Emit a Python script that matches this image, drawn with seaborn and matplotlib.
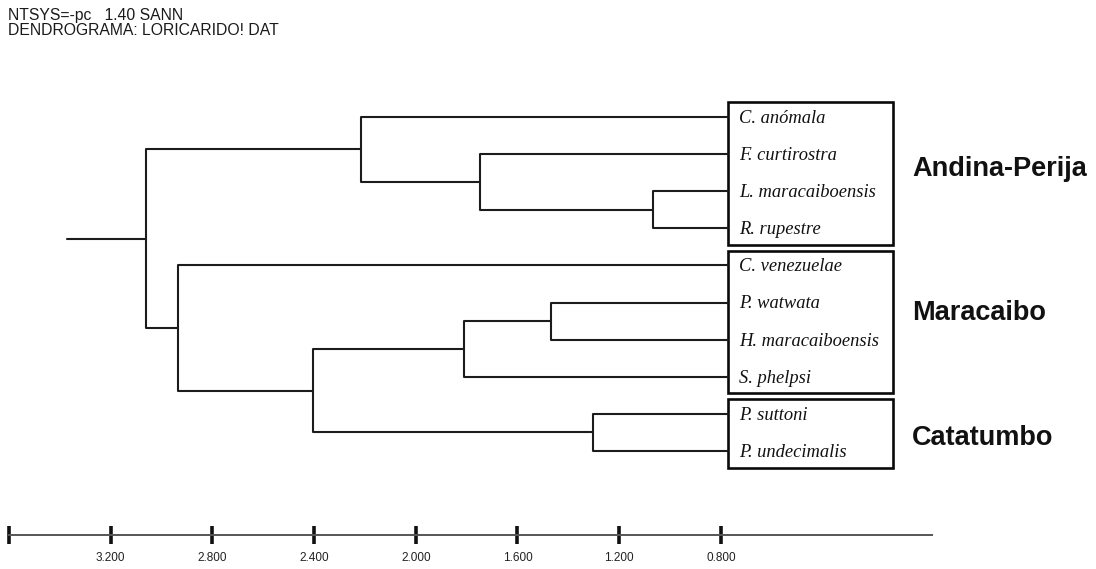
import matplotlib
matplotlib.use("Agg")

import matplotlib.pyplot as plt
import pandas as pd
import seaborn as sns
from matplotlib.patches import Rectangle

# species in dendrogram order, top to bottom
species = [
    "C. anómala", "F. curtirostra", "L. maracaiboensis", "R. rupestre",
    "C. venezuelae", "P. watwata", "H. maracaiboensis", "S. phelpsi",
    "P. suttoni", "P. undecimalis",
]

# agglomeration steps; ids 0-9 are the species, step k creates node 10 + k
merge_left = [2, 1, 0, 5, 13, 8, 14, 4, 12]
merge_right = [3, 10, 11, 6, 7, 9, 15, 16, 17]
merge_height = [1.067, 1.747, 2.215, 1.468, 1.810, 1.303, 2.404, 2.935, 3.061]
root_stem = 3.372
leaf_edge = 0.772

group_names = ["Andina-Perija", "Maracaibo", "Catatumbo"]
group_sizes = [4, 4, 2]

tick_values = [3.6, 3.2, 2.8, 2.4, 2.0, 1.6, 1.2, 0.8]
tick_labels = ["", "3.200", "2.800", "2.400", "2.000", "1.600", "1.200", "0.800"]

header_lines = ["NTSYS=-pc   1.40 SANN", "DENDROGRAMA: LORICARIDO! DAT"]


def build_segments():
    n = len(species)
    pos = {i: float(i) for i in range(n)}
    height = {i: leaf_edge for i in range(n)}
    rows = []
    for k, (l, r, h) in enumerate(zip(merge_left, merge_right, merge_height)):
        node = n + k
        pos[node] = (pos[l] + pos[r]) / 2
        height[node] = h
        rows += [
            (node, height[l], pos[l]),
            (node, h, pos[l]),
            (node, h, pos[r]),
            (node, height[r], pos[r]),
        ]
    root = n + len(merge_height) - 1
    rows += [(-1, root_stem, pos[root]), (-1, height[root], pos[root])]
    return pd.DataFrame(rows, columns=["seg", "dist", "pos"])


sns.set_theme(style="white")
plt.rcParams["font.family"] = ["Liberation Sans", "DejaVu Sans"]

fig = plt.figure(figsize=(10.96, 5.69), dpi=100)
ax = fig.add_axes([0, 0, 1, 1])

seg_df = build_segments()
sns.lineplot(
    data=seg_df, x="dist", y="pos", units="seg", estimator=None, sort=False,
    color="#1c1c1c", linewidth=1.5, legend=False, ax=ax,
)

ax.set_xlim(3.635, -0.675)
ax.set_ylim(12.183, -3.154)
ax.set_xlabel("")
ax.set_ylabel("")
ax.set_yticks([])

# species labels and group boxes
for i, name in enumerate(species):
    ax.text(0.729, i + 0.16, name, family="Liberation Serif", style="italic",
            fontsize=13.3, color="#111111", ha="left", va="baseline")

group_label_y = [1.58, 5.47, 8.84]
start = 0
for name, size, gy in zip(group_names, group_sizes, group_label_y):
    y0 = start - 0.40
    y1 = start + size - 1 + 0.45
    ax.add_patch(Rectangle((leaf_edge, y0), 0.123 - leaf_edge, y1 - y0,
                           fill=False, edgecolor="#0a0a0a", linewidth=1.9))
    ax.text(0.049, gy, name, fontsize=19.5, fontweight="bold", color="#111111",
            ha="left", va="baseline")
    start += size

# distance scale at the bottom
for side in ["top", "left", "right"]:
    ax.spines[side].set_visible(False)
ax.spines["bottom"].set_position(("data", 11.27))
ax.spines["bottom"].set_bounds(3.6, -0.03)
ax.spines["bottom"].set_color("#555555")
ax.spines["bottom"].set_linewidth(1.4)
ax.set_xticks(tick_values)
ax.set_xticklabels(tick_labels)
ax.tick_params(axis="x", direction="inout", length=13, width=2.6, color="#111111",
               pad=6, labelsize=8.5, labelcolor="#222222", bottom=True)

fig.text(8 / 1096, 1 - 20 / 569, header_lines[0], fontsize=11.3, color="#1a1a1a",
         ha="left", va="baseline")
fig.text(8 / 1096, 1 - 35 / 569, header_lines[1], fontsize=11.3, color="#1a1a1a",
         ha="left", va="baseline")

fig.savefig("out.png", dpi=100)
plt.close(fig)
